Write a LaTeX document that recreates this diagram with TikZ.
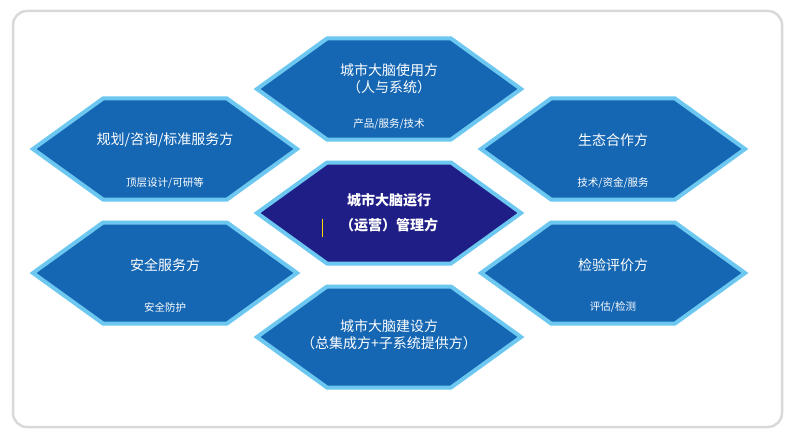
\documentclass[tikz,border=0pt]{standalone}
\usepackage{fontspec}
\newfontfamily\cjk{Noto Sans CJK SC}
\definecolor{hexblue}{HTML}{1566B3}
\definecolor{hexnavy}{HTML}{1F1E86}
\definecolor{hexedge}{HTML}{6CC8F0}
\definecolor{frame}{HTML}{D9D9D9}
\tikzset{
  hexa/.style={fill=hexblue,draw=hexedge,line width=4pt,line join=miter},
  ttl/.style={text=white,font=\cjk\fontsize{14}{17}\selectfont,align=center},
  sub/.style={text=white,font=\cjk\fontsize{10.5}{12}\selectfont},
}
\newcommand{\hexat}[3]{\path[hexa,#3] (#1-132,#2) -- (#1-62,#2-50.5) -- (#1+62,#2-50.5) -- (#1+132,#2) -- (#1+62,#2+50.5) -- (#1-62,#2+50.5) -- cycle;}
\begin{document}
\begin{tikzpicture}[x=1pt,y=-1pt]
\useasboundingbox (0,0) rectangle (791,441);
\draw[frame,line width=2.5pt,rounded corners=14pt,fill=white] (13,11) rectangle (782,427);
\hexat{389}{89}{}
\hexat{165}{149}{}
\hexat{613}{149}{}
\hexat{389}{213}{fill=hexnavy}
\hexat{165}{273}{}
\hexat{613}{273}{}
\hexat{389}{337}{}
\node[ttl] (t1) at (389,79) {城市大脑使用方\\（人与系统）};
\node[sub] (s1) at (389,124) {产品/服务/技术};
\node[ttl] (t2) at (165,140) {规划/咨询/标准服务方};
\node[sub] (s2) at (165,183) {顶层设计/可研等};
\node[ttl] (t3) at (613,140) {生态合作方};
\node[sub] (s3) at (613,183) {技术/资金/服务};
\node[ttl,font=\cjk\bfseries\fontsize{14}{25}\selectfont] (t4) at (389,213) {城市大脑运行\\（运营）管理方};
\draw[yellow!80!orange,line width=1pt] (322,219) -- (322,237);
\node[ttl] (t5) at (165,265) {安全服务方};
\node[sub] (s5) at (165,307) {安全防护};
\node[ttl] (t6) at (613,265) {检验评价方};
\node[sub] (s6) at (613,307) {评估/检测};
\node[ttl] (t7) at (389,335) {城市大脑建设方\\（总集成方+子系统提供方）};
\end{tikzpicture}
\end{document}
